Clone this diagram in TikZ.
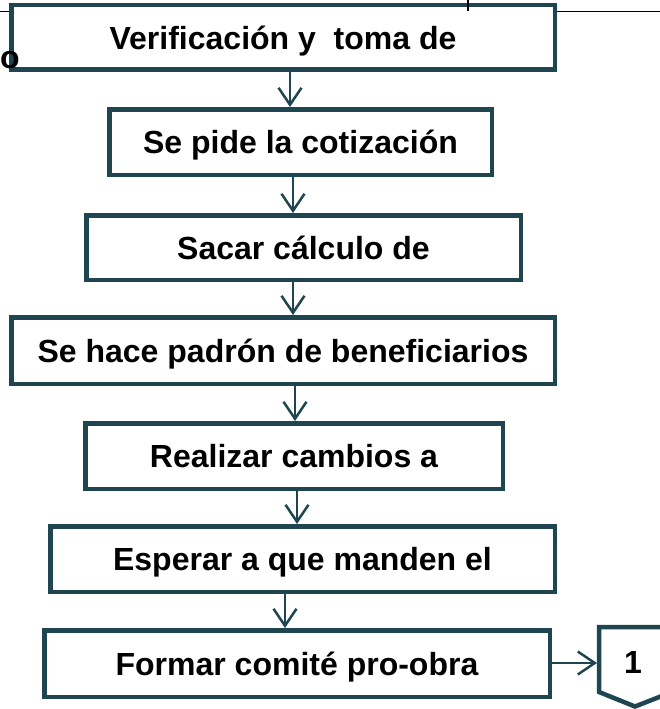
\documentclass[tikz,border=0pt]{standalone}
\usepackage{fontspec}
\setmainfont{Liberation Sans}
\usetikzlibrary{arrows.meta}
\definecolor{boxline}{RGB}{31,69,81}
\tikzset{
  stepbox/.style={draw=boxline, line width=4.5pt, fill=white, rectangle,
    inner sep=0pt, outer sep=2.25pt, text height=23pt, text depth=0pt,
    font=\fontsize{32}{38}\selectfont\bfseries, text=black},
  flow/.style={draw=boxline, line width=2.5pt,
    -{Straight Barb[length=17pt,width=23pt]}},
  rule/.style={draw=black, line width=1.4pt}
}
\begin{document}
\begin{tikzpicture}[x=1pt,y=-1pt]
\useasboundingbox (0,0) rectangle (660,709);
\clip (0,0) rectangle (660,709);
% header rule
\coordinate (hl) at (0,11.5);
\coordinate (hr) at (660,11.5);
\draw[rule] (hl) -- (hr);
% boxes
\node[stepbox, minimum width=543.5pt, minimum height=64.5pt] (b1) at (283,37.5) {Verificación y\ \ toma de};
\node[anchor=base west, inner sep=0pt, font=\fontsize{32}{38}\selectfont\bfseries] (stray) at (0,68) {o};
\coordinate (vt) at (468,0);
\coordinate (vb) at (468,11);
\draw[rule] (vt) -- (vb);
\node[stepbox, minimum width=382.5pt, minimum height=65.5pt] (b2) at (300.5,142) {Se pide la cotización};
\node[stepbox, minimum width=434.5pt, minimum height=64.5pt] (b3) at (303.5,247.5) {Sacar cálculo de};
\node[stepbox, minimum width=543.5pt, minimum height=66.5pt] (b4) at (283,350.5) {Se hace padrón de beneficiarios};
\node[stepbox, minimum width=417.5pt, minimum height=65.5pt] (b5) at (294,456) {Realizar cambios a};
\node[stepbox, minimum width=504.5pt, minimum height=65.5pt] (b6) at (302.5,559) {Esperar a que manden el};
\node[stepbox, minimum width=505.5pt, minimum height=66.5pt] (b7) at (297,663.5) {Formar comité pro-obra};
% off-page connector
\draw[draw=boxline, line width=4.5pt, fill=white, line join=miter]
  (599,627) -- (672,627) -- (672,692) -- (635,706.5) -- (599,692) -- cycle;
\node[font=\fontsize{32}{38}\selectfont\bfseries, inner sep=0pt, text height=23pt, text depth=0pt] (c1) at (633,662) {1};
\coordinate (cw) at (597,663);
% arrows
\draw[flow] (b1.south -| 290,0) -- (b2.north -| 290,0);
\draw[flow] (b2.south -| 293,0) -- (b3.north -| 293,0);
\draw[flow] (b3.south -| 293,0) -- (b4.north -| 293,0);
\draw[flow] (b4.south -| 295,0) -- (b5.north -| 295,0);
\draw[flow] (b5.south -| 297,0) -- (b6.north -| 297,0);
\draw[flow] (b6.south -| 285,0) -- (b7.north -| 285,0);
\draw[flow] (b7.east |- cw) -- (cw);
\end{tikzpicture}
\end{document}
